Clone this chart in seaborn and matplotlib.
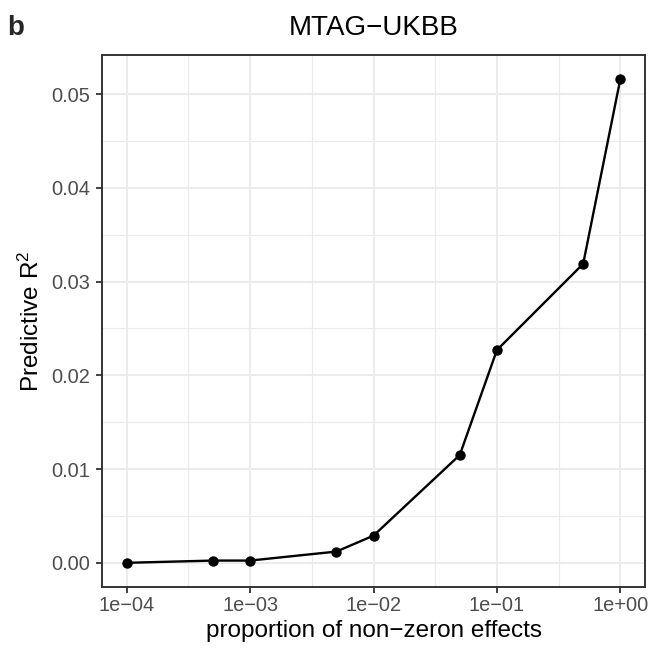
import numpy as np
import pandas as pd
import matplotlib
matplotlib.use("Agg")
import matplotlib.pyplot as plt
import matplotlib.ticker as mticker
import seaborn as sns

# Data
proportion = [1e-4, 5e-4, 1e-3, 5e-3, 1e-2, 5e-2, 1e-1, 5e-1, 1.0]
predictive_r2 = [0.0000, 0.00024, 0.00024, 0.0012, 0.0029, 0.0115, 0.0227, 0.0319, 0.0516]
x_ticks = [1e-4, 1e-3, 1e-2, 1e-1, 1e0]
x_tick_labels = ["1e\u221204", "1e\u221203", "1e\u221202", "1e\u221201", "1e+00"]
y_ticks = [0.00, 0.01, 0.02, 0.03, 0.04, 0.05]
y_tick_labels = ["0.00", "0.01", "0.02", "0.03", "0.04", "0.05"]
x_minor = [10 ** -3.5, 10 ** -2.5, 10 ** -1.5, 10 ** -0.5]
y_minor = [0.005, 0.015, 0.025, 0.035, 0.045]

sns.set_theme(style="white")
plt.rcParams["font.family"] = ["Liberation Sans", "DejaVu Sans"]
plt.rcParams["mathtext.fontset"] = "custom"
plt.rcParams["mathtext.rm"] = "Liberation Sans"
plt.rcParams["mathtext.it"] = "Liberation Sans:italic"

df = pd.DataFrame({"proportion": proportion, "r2": predictive_r2})

fig = plt.figure(figsize=(6.64, 6.5), dpi=100)
ax = fig.add_axes([102 / 664, 63 / 650, 543 / 664, 532 / 650])

sns.lineplot(data=df, x="proportion", y="r2", ax=ax, color="black",
             linewidth=1.7, marker="o", markersize=7.5, markeredgewidth=0,
             markerfacecolor="black", zorder=3)

ax.set_xscale("log")
lx = np.log10(proportion)
span = lx.max() - lx.min()
ax.set_xlim(10 ** (lx.min() - 0.05 * span), 10 ** (lx.max() + 0.05 * span))
yspan = max(predictive_r2) - min(predictive_r2)
ax.set_ylim(min(predictive_r2) - 0.05 * yspan, max(predictive_r2) + 0.05 * yspan)

ax.xaxis.set_major_locator(mticker.FixedLocator(x_ticks))
ax.xaxis.set_major_formatter(mticker.FixedFormatter(x_tick_labels))
ax.xaxis.set_minor_locator(mticker.FixedLocator(x_minor))
ax.xaxis.set_minor_formatter(mticker.NullFormatter())
ax.yaxis.set_major_locator(mticker.FixedLocator(y_ticks))
ax.yaxis.set_major_formatter(mticker.FixedFormatter(y_tick_labels))
ax.yaxis.set_minor_locator(mticker.FixedLocator(y_minor))

ax.grid(True, which="major", color="#EBEBEB", linewidth=1.4, zorder=0)
ax.grid(True, which="minor", color="#EBEBEB", linewidth=0.8, zorder=0)
ax.set_axisbelow(True)

for s in ax.spines.values():
    s.set_color("#333333")
    s.set_linewidth(1.4)
    s.set_visible(True)

ax.tick_params(axis="both", which="major", length=4.3, width=1.3, color="#333333",
               labelcolor="#4D4D4D", labelsize=14.4, bottom=True, left=True)
ax.tick_params(axis="x", which="major", pad=2.5)
ax.tick_params(axis="y", which="major", pad=4.3)
ax.tick_params(axis="both", which="minor", length=0)

ax.set_xlabel("proportion of non\u2212zeron effects", fontsize=17.5, color="black", labelpad=3)
ax.set_ylabel("Predictive R$^2$", fontsize=17.5, color="black", labelpad=5)
ax.set_title("MTAG\u2212UKBB", fontsize=20, color="black", pad=14.4)

fig.text(7 / 664, 1 - 35 / 650, "b", fontsize=20, fontweight="bold", va="baseline", ha="left")

fig.savefig("out.png", dpi=100)
